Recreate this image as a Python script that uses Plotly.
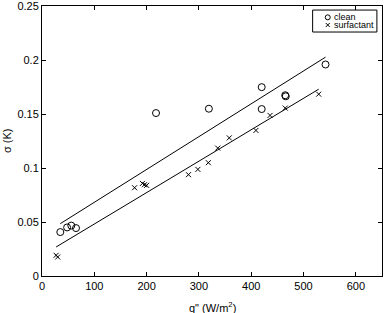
import plotly.graph_objects as go

clean_q = [35, 48, 56, 65, 218, 319, 420, 420, 465, 466, 542]
clean_s = [0.0407, 0.045, 0.0467, 0.0444, 0.151, 0.155, 0.175, 0.1547, 0.1675, 0.1665, 0.196]

surf_q = [27, 30, 177, 192, 196, 200, 280, 298, 318, 336, 358, 409, 436, 465, 529]
surf_s = [0.0192, 0.0176, 0.0818, 0.0858, 0.0846, 0.084, 0.0939, 0.0988, 0.105, 0.1185, 0.128, 0.1349, 0.1488, 0.1556, 0.1685]

fit_clean_q = [35, 542]
fit_clean_s = [0.0485, 0.2028]
fit_surf_q = [27, 529]
fit_surf_s = [0.0269, 0.1731]

x_ticks = [0, 100, 200, 300, 400, 500, 600]
y_ticks = [0, 0.05, 0.1, 0.15, 0.2, 0.25]
y_tick_text = ["0", "0.05", "0.1", "0.15", "0.2", "0.25"]

FONT = "Liberation Sans, Arial, Helvetica"

fig = go.Figure()
fig.add_trace(go.Scatter(x=fit_clean_q, y=fit_clean_s, mode="lines",
                         line=dict(color="black", width=1), showlegend=False))
fig.add_trace(go.Scatter(x=fit_surf_q, y=fit_surf_s, mode="lines",
                         line=dict(color="black", width=1), showlegend=False))
fig.add_trace(go.Scatter(x=clean_q, y=clean_s, mode="markers", name="clean", showlegend=False,
                         marker=dict(symbol="circle-open", size=7, color="black",
                                     line=dict(width=1, color="black"))))
fig.add_trace(go.Scatter(x=surf_q, y=surf_s, mode="markers", name="surfactant", showlegend=False,
                         marker=dict(symbol="x-thin-open", size=5, color="black",
                                     line=dict(width=1, color="black"))))

axis_common = dict(showgrid=False, zeroline=False, showline=True, linecolor="black",
                   linewidth=1, mirror="ticks", ticks="inside", ticklen=4,
                   tickcolor="black", automargin=False,
                   tickfont=dict(family=FONT, size=11, color="black"))

# legend box (drawn manually to match the compact reference legend)
shapes = [
    dict(type="rect", xref="paper", yref="paper", x0=0.796, x1=0.985, y0=0.9036, y1=0.985,
         line=dict(color="black", width=1), fillcolor="white", layer="above"),
    dict(type="circle", xref="paper", yref="paper", xsizemode="pixel", ysizemode="pixel",
         xanchor=0.8404, yanchor=0.958, x0=-2.5, x1=2.5, y0=-2.5, y1=2.5,
         line=dict(color="black", width=1), layer="above"),
    dict(type="line", xref="paper", yref="paper", xsizemode="pixel", ysizemode="pixel",
         xanchor=0.8404, yanchor=0.9296, x0=-2, x1=2, y0=-2, y1=2,
         line=dict(color="black", width=1), layer="above"),
    dict(type="line", xref="paper", yref="paper", xsizemode="pixel", ysizemode="pixel",
         xanchor=0.8404, yanchor=0.9296, x0=-2, x1=2, y0=2, y1=-2,
         line=dict(color="black", width=1), layer="above"),
]

annotations = [
    dict(text="clean", xref="paper", yref="paper", x=0.852, y=0.958, xanchor="left",
         yanchor="middle", showarrow=False, font=dict(family=FONT, size=9, color="black")),
    dict(text="surfactant", xref="paper", yref="paper", x=0.852, y=0.9296, xanchor="left",
         yanchor="middle", showarrow=False, font=dict(family=FONT, size=9, color="black")),
    dict(text="q\" (W/m<sup>2</sup>)", xref="paper", yref="paper", x=0.5, y=0, yshift=-31,
         xanchor="center", yanchor="middle", showarrow=False,
         font=dict(family=FONT, size=11, color="black")),
    dict(text="σ (K)", xref="paper", yref="paper", x=0, y=0.5, xshift=-35, textangle=-90,
         xanchor="center", yanchor="middle", showarrow=False,
         font=dict(family=FONT, size=11, color="black")),
]

fig.update_layout(
    width=385, height=313,
    margin=dict(l=42, r=3, t=6, b=37, autoexpand=False),
    paper_bgcolor="white", plot_bgcolor="white",
    font=dict(family=FONT, size=11, color="black"),
    showlegend=False,
    xaxis=dict(range=[0, 650], tickvals=x_ticks, **axis_common),
    yaxis=dict(range=[0, 0.2502], tickvals=y_ticks, ticktext=y_tick_text, **axis_common),
    shapes=shapes,
    annotations=annotations,
)

fig.write_html("out.html", config={"displayModeBar": False},
               post_script="document.body.style.margin='0';document.body.style.overflow='hidden';")
